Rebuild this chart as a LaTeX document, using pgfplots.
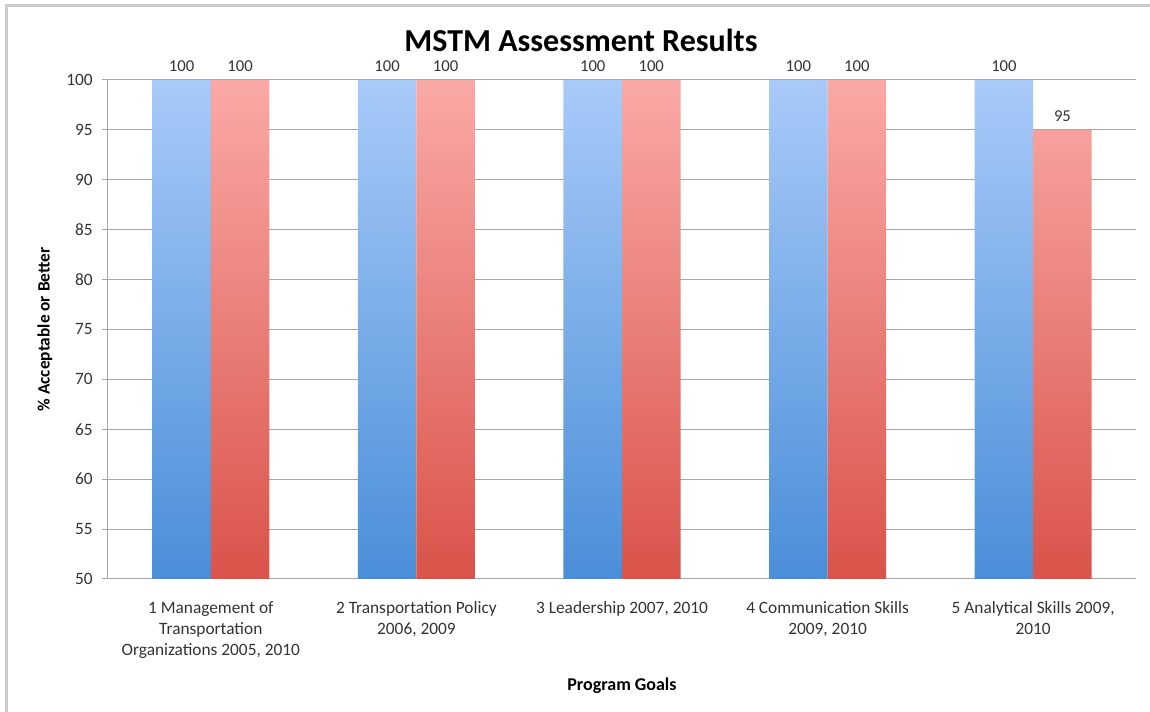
\documentclass[border=0pt]{standalone}
\usepackage{pgfplots}
\pgfplotsset{compat=1.18}
\usepackage{fontspec}
\setmainfont{Carlito}
\definecolor{bluetop}{HTML}{A8CAF9}
\definecolor{bluebot}{HTML}{4A8ED8}
\definecolor{redtop}{HTML}{FAA9A6}
\definecolor{redbot}{HTML}{D9534A}
\definecolor{gridc}{HTML}{A6A6A6}
\definecolor{framec}{HTML}{CCCCCC}
\definecolor{txt}{HTML}{333333}
\begin{document}
\begin{tikzpicture}
\path[use as bounding box] (-81pt,-99.75pt) rectangle (781.5pt,434.25pt);
\draw[framec, line width=2.25pt] (-75.75pt,-99.75pt) -- (-75.75pt,429.75pt) -- (781.5pt,429.75pt);
\begin{axis}[
  at={(0,0)}, anchor=south west,
  scale only axis,
  width=771pt, height=374.25pt,
  xmin=0.5, xmax=5.5,
  ymin=50, ymax=100,
  ytick={50,55,...,100},
  xtick={1,2,3,4,5},
  xticklabels={{1 Management of\\Transportation\\Organizations 2005, 2010},
               {2 Transportation Policy\\2006, 2009},
               {3 Leadership 2007, 2010},
               {4 Communication Skills\\2009, 2010},
               {5 Analytical Skills 2009,\\2010}},
  xticklabel style={align=center, font=\fontsize{13pt}{15.75pt}\selectfont, text=txt, anchor=north, yshift=-9pt},
  yticklabel style={font=\fontsize{13pt}{15pt}\selectfont, text=txt, xshift=-3.5pt},
  /pgf/number format/assume math mode=true,
  major x tick style={draw=none},
  extra x ticks={0.5,1.5,2.5,3.5,4.5,5.5},
  extra x tick labels={},
  extra x tick style={major tick length=3.75pt, tick align=outside, major tick style={draw=gridc, line width=0.75pt}},
  major tick length=4.5pt,
  tick align=outside,
  ytick style={draw=gridc, line width=0.75pt},
  axis x line*=bottom, axis y line*=left,
  axis line style={draw=gridc, line width=0.75pt, -},
  ymajorgrids,
  grid style={draw=gridc, line width=0.75pt},
  ybar=0pt, bar width=43.9pt,
  nodes near coords,
  nodes near coords style={font=\fontsize{12.5pt}{15pt}\selectfont, text=txt, yshift=3pt},
  xlabel={\textbf{Program Goals}},
  ylabel={\textbf{\% Acceptable or Better}},
  xlabel style={font=\fontsize{13.5pt}{16pt}\selectfont, text=black, at={(axis description cs:0.5,0)}, anchor=base, yshift=-83.5pt},
  ylabel style={font=\fontsize{13pt}{16pt}\selectfont, text=black, at={([xshift=-47.25pt]axis description cs:0,0.5)}, anchor=center},
  clip=false,
]
\addplot[draw=none, top color=bluetop, bottom color=bluebot] coordinates {(1,100) (2,100) (3,100) (4,100) (5,100)};
\addplot[draw=none, top color=redtop, bottom color=redbot] coordinates {(1,100) (2,100) (3,100) (4,100) (5,95)};
\end{axis}
\node[anchor=base, font=\fontsize{24pt}{28pt}\selectfont\bfseries] at (354.75pt,395.25pt) {MSTM Assessment Results};
\end{tikzpicture}
\end{document}
